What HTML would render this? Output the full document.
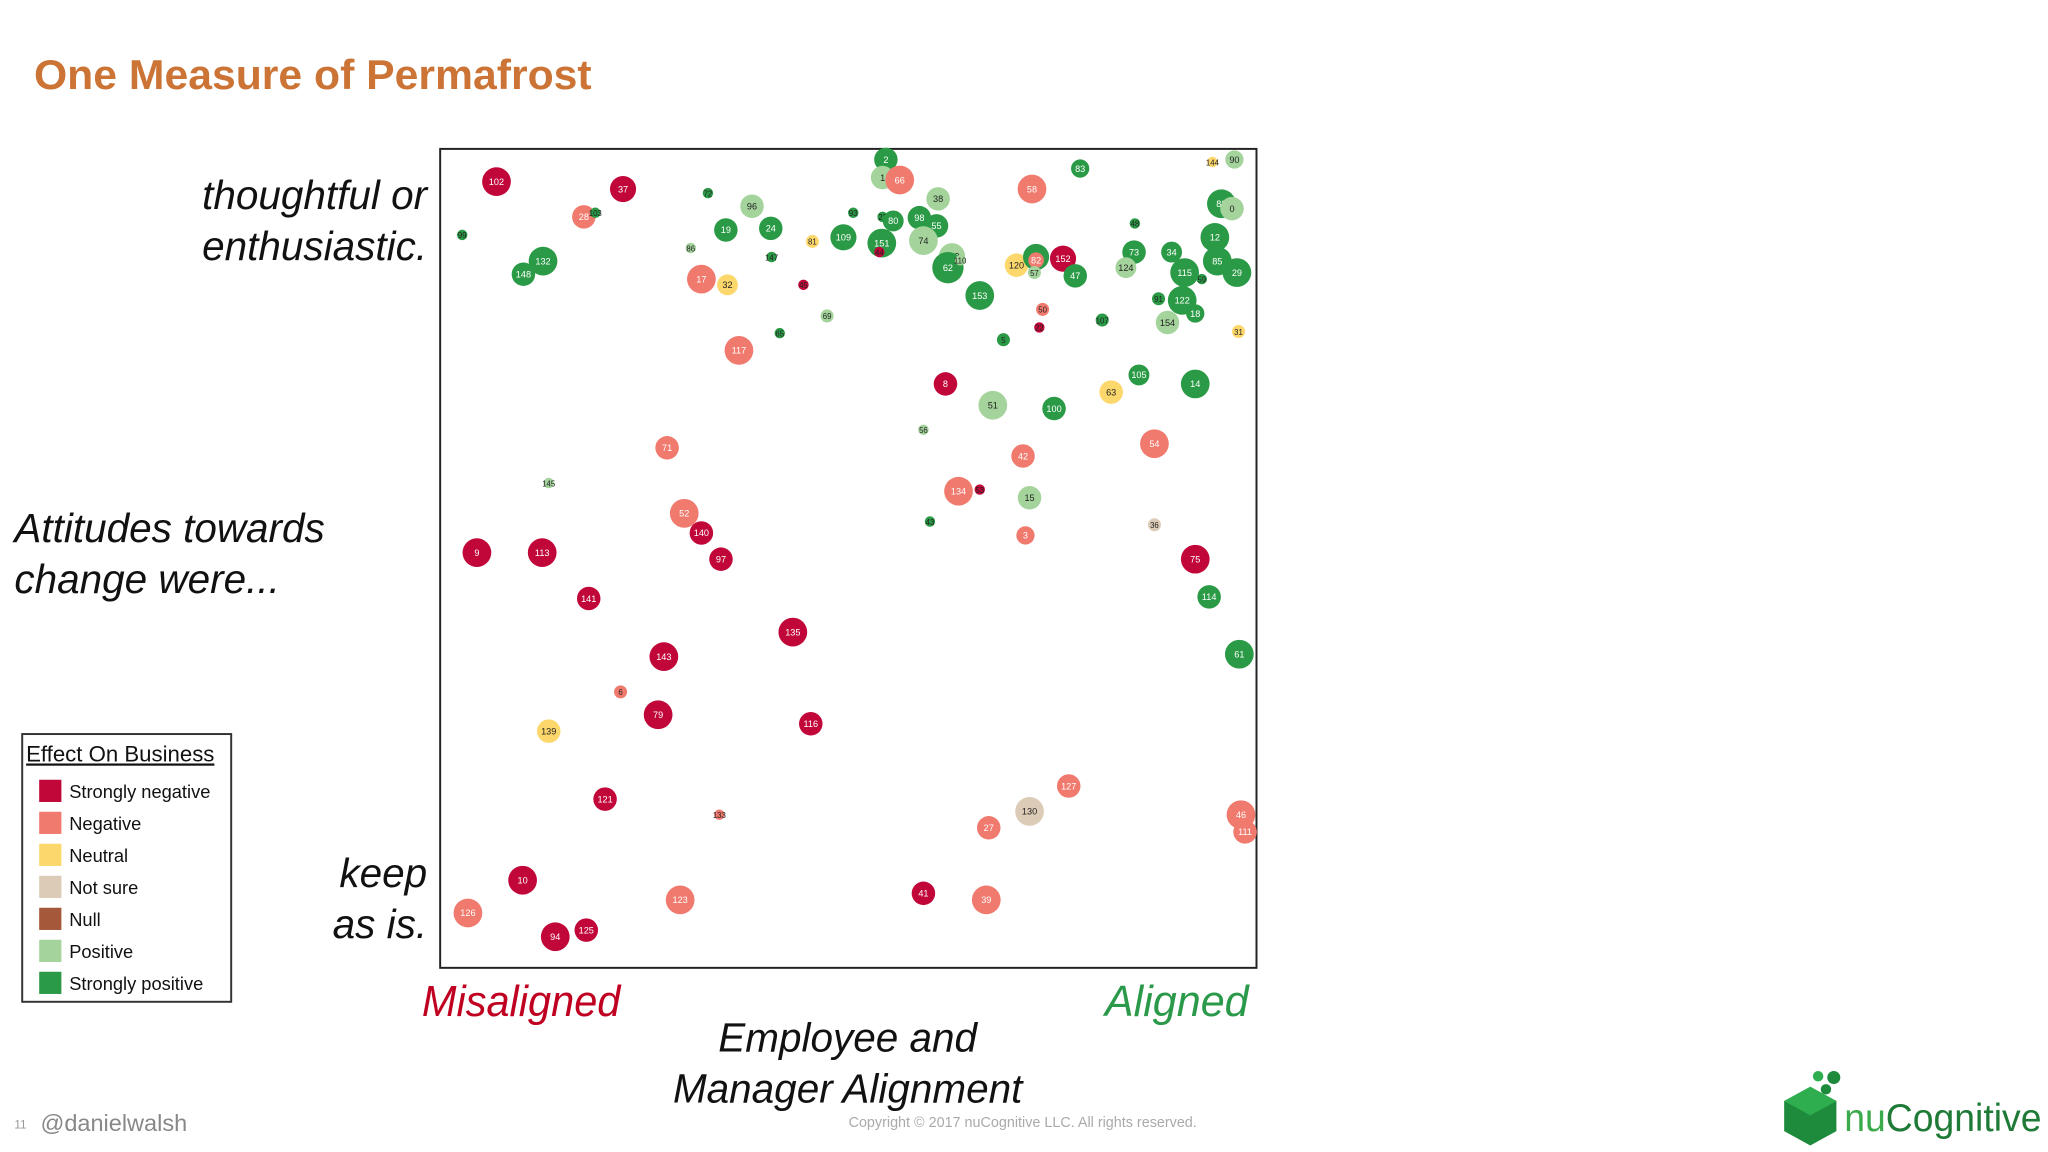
<!DOCTYPE html>
<html><head><meta charset="utf-8"><style>
html,body{margin:0;padding:0;background:#fff;width:2048px;height:1152px;overflow:hidden}
svg{display:block}
text{font-family:"Liberation Sans",sans-serif}
</style></head><body>
<svg id="chart" width="2048" height="1152" viewBox="0 0 1568 882">
<text x="26" y="68" font-size="32" font-weight="bold" fill="#cc7436" textLength="427" lengthAdjust="spacingAndGlyphs">One Measure of Permafrost</text>
<g font-style="italic" font-size="31" fill="#111">
<text x="327" y="160" text-anchor="end">thoughtful or</text>
<text x="327" y="199" text-anchor="end">enthusiastic.</text>
<text x="11" y="415">Attitudes towards</text>
<text x="11" y="454">change were...</text>
<text x="327" y="679" text-anchor="end">keep</text>
<text x="327" y="718" text-anchor="end">as is.</text>
<text x="323" y="778" fill="#c00020" font-size="33" textLength="152" lengthAdjust="spacingAndGlyphs">Misaligned</text>
<text x="956" y="778" fill="#2a9a4a" font-size="33" text-anchor="end">Aligned</text>
<text x="649" y="805" text-anchor="middle">Employee and</text>
<text x="649" y="844" text-anchor="middle">Manager Alignment</text>
</g>
<rect x="337" y="114" width="625" height="627" fill="#fff" stroke="#222" stroke-width="1.5"/>
<g id="points"></g>
<g>
<rect x="17" y="562" width="160" height="205" fill="#fff" stroke="#333" stroke-width="1.5"/>
<text x="20" y="583" font-size="17" fill="#111" text-decoration="underline">Effect On Business</text>
<g id="legend-entries"></g>
</g>
<text x="11" y="864" font-size="9" fill="#999">11</text>
<text x="31" y="866" font-size="18" fill="#888">@danielwalsh</text>
<text x="783" y="863" font-size="11" fill="#aaa" text-anchor="middle">Copyright © 2017 nuCognitive LLC. All rights reserved.</text>
<g>
<polygon points="1386,832 1406,843 1406,866 1386,877 1366,866 1366,843" fill="#1e8a3c"/>
<polygon points="1386,832 1406,843 1386,854 1366,843" fill="#2fae50"/>
<circle cx="1404" cy="825" r="5" fill="#1e8a3c"/><circle cx="1392" cy="824" r="4" fill="#2fae50"/><circle cx="1398" cy="834" r="4" fill="#1e8a3c"/>
<text x="1412" y="866" font-size="30" fill="#3aaa4a" textLength="151" lengthAdjust="spacingAndGlyphs">nu<tspan fill="#1e7a36">Cognitive</tspan></text>
</g>
</svg>
<script>
const ids=[102,37,28,103,99,72,96,19,24,132,148,86,147,81,17,32,45,93,109,2,1,66,23,80,151,44,98,55,74,38,149,62,110,69,65,117,153,58,83,120,68,82,57,152,47,50,22,5,107,48,73,124,34,115,59,91,122,18,154,12,85,29,88,0,90,144,31,105,14,63,8,51,100,56,71,54,42,134,53,15,43,3,36,145,52,140,9,113,97,75,141,114,135,61,143,6,79,139,116,127,130,27,46,111,121,133,10,41,39,123,126,125,94];
const xs=[6.9,22.4,17.6,19.0,2.7,32.8,38.2,35.0,40.5,12.6,10.2,30.7,40.6,45.6,32.0,35.2,44.5,50.6,49.4,54.6,54.2,56.3,54.2,55.5,54.1,53.8,58.7,60.8,59.2,61.0,62.7,62.2,63.7,47.4,41.6,36.6,66.1,72.5,78.4,70.6,73.0,73.0,72.8,76.3,77.8,73.8,73.4,69.0,81.1,85.1,85.0,84.0,89.6,91.2,93.3,88.0,90.9,92.5,89.1,94.9,95.2,97.6,95.7,97.0,97.3,94.6,97.8,85.6,92.5,82.2,61.9,67.7,75.2,59.2,27.8,87.5,71.4,63.5,66.1,72.2,60.0,71.7,87.5,13.3,29.9,32.0,4.5,12.5,34.4,92.5,18.2,94.2,43.2,97.9,27.4,22.1,26.7,13.3,45.4,77.0,72.2,67.2,98.1,98.6,20.2,34.2,10.1,59.2,66.9,29.4,3.4,17.9,14.1];
const ys=[96.0,95.1,91.7,92.2,89.5,94.6,93.0,90.1,90.3,86.3,84.7,87.9,86.8,88.7,84.1,83.4,83.4,92.2,89.2,98.7,96.5,96.2,91.7,91.2,88.5,87.4,91.6,90.6,88.8,93.9,86.9,85.5,86.4,79.6,77.5,75.4,82.1,95.1,97.6,85.8,86.8,86.4,84.9,86.6,84.5,80.4,78.2,76.7,79.1,90.9,87.4,85.5,87.4,84.9,84.1,81.7,81.5,79.9,78.8,89.2,86.3,84.9,93.3,92.7,98.7,98.4,77.7,72.4,71.3,70.3,71.3,68.7,68.3,65.7,63.5,64.0,62.5,58.2,58.4,57.4,54.5,52.8,54.1,59.2,55.5,53.1,50.7,50.7,49.9,49.9,45.1,45.3,41.0,38.3,38.0,33.7,30.9,28.9,29.8,22.2,19.1,17.1,18.7,16.6,20.6,18.7,10.7,9.1,8.3,8.3,6.7,4.6,3.8];
const sizes=[11,10,9,4,4,4,9,9,9,11,9,4,4,5,11,8,4,4,10,9,9,11,4,8,11,4,9,9,11,9,10,12,4,5,4,11,11,11,7,9,10,6,5,10,9,5,4,5,5,4,9,8,8,11,4,5,11,7,9,11,11,11,11,9,7,4,5,8,11,9,9,11,9,4,9,11,9,11,4,9,4,7,5,4,11,9,11,11,9,11,9,9,11,11,11,5,11,9,9,9,11,9,11,9,9,4,11,9,11,11,11,9,11];
const cats=["SN","SN","N","SP","SP","SP","P","SP","SP","SP","SP","P","SP","U","N","U","SN","SP","SP","SP","P","N","SP","SP","SP","SN","SP","SP","P","P","P","SP","P","P","SP","N","SP","N","SP","U","SP","N","P","SN","SP","N","SN","SP","SP","SP","SP","P","SP","SP","SP","SP","SP","SP","P","SP","SP","SP","SP","P","P","U","U","SP","SP","U","SN","P","SP","P","N","N","N","N","SN","P","SP","N","NS","P","N","SN","SN","SN","SN","SN","SN","SP","SN","SP","SN","N","SN","U","SN","N","NS","N","N","N","SN","N","SN","SN","N","N","N","SN","SN"];
const legendKeys=["SN","N","U","NS","NL","P","SP"];
const legendLabels=["Strongly negative","Negative","Neutral","Not sure","Null","Positive","Strongly positive"];
const colors={SN:"#c1073a",N:"#f07a6e",U:"#fcd86c",NS:"#dccbb6",NL:"#a5583a",P:"#a4d49c",SP:"#2b9a46"};
const ns="http://www.w3.org/2000/svg";
const X0=337,X1=962,Y0=741,Y1=114;
function xScale(v){return X0+v/100*(X1-X0);}
function yScale(v){return Y0-v/100*(Y0-Y1);}
function rScale(v){return v;}
const g=document.getElementById('points');
for(let i=0;i<ids.length;i++){
  const c=document.createElementNS(ns,'circle');
  c.setAttribute('cx',xScale(xs[i]));c.setAttribute('cy',yScale(ys[i]));
  c.setAttribute('r',rScale(sizes[i]));c.setAttribute('fill',colors[cats[i]]);
  
  
  g.appendChild(c);
  const t=document.createElementNS(ns,'text');
  t.setAttribute('x',xScale(xs[i]));t.setAttribute('y',yScale(ys[i])+2.5);
  t.setAttribute('text-anchor','middle');t.setAttribute('font-size',sizes[i]<6?6:7);
  const dark=(cats[i]==='SN'||cats[i]==='N'||cats[i]==='SP')&&sizes[i]>5;
  t.setAttribute('fill',dark?'#fff':'#222');
  t.textContent=ids[i];
  
  
  g.appendChild(t);
}
const lg=document.getElementById('legend-entries');
for(let i=0;i<legendKeys.length;i++){
  const y=597+i*24.5;
  const r=document.createElementNS(ns,'rect');
  r.setAttribute('x',30);r.setAttribute('y',y);r.setAttribute('width',17);r.setAttribute('height',17);
  r.setAttribute('fill',colors[legendKeys[i]]);
  
  
  lg.appendChild(r);
  const t=document.createElementNS(ns,'text');
  t.setAttribute('x',53);t.setAttribute('y',y+14);t.setAttribute('font-size',14);t.setAttribute('fill','#111');
  t.textContent=legendLabels[i];
  
  
  lg.appendChild(t);
}
</script>
</body></html>
